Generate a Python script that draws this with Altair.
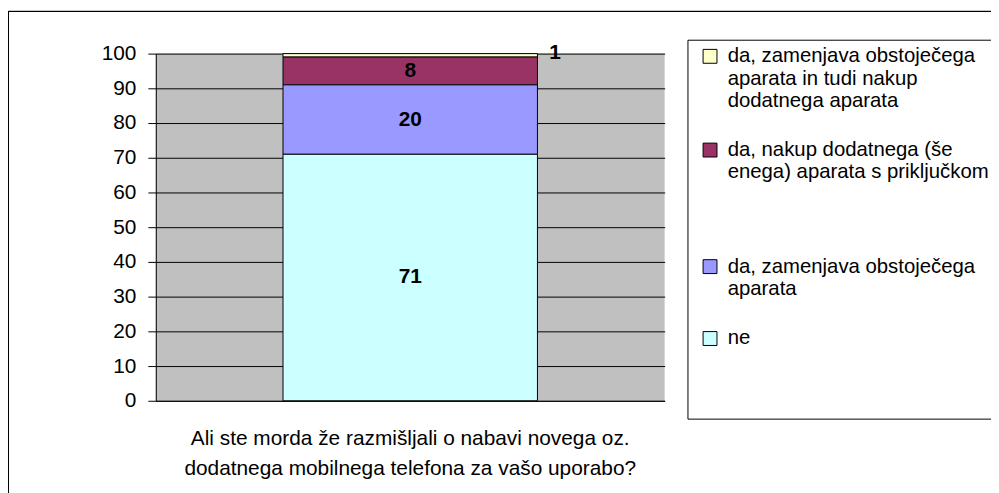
import json
import altair as alt
import pandas as pd

# ---- data (legend order: top of stack first) ----
categories = [
    "da, zamenjava obstoječega aparata in tudi nakup dodatnega aparata",
    "da, nakup dodatnega (še enega) aparata s priključkom",
    "da, zamenjava obstoječega aparata",
    "ne",
]
values = [1, 8, 20, 71]
colors = ["#FFFFCC", "#993366", "#9999FF", "#CCFFFF"]
question = "Ali ste morda že razmišljali o nabavi novega oz. dodatnega mobilnega telefona za vašo uporabo?"
question_lines = ["Ali ste morda že razmišljali o nabavi novega oz.",
                  "dodatnega mobilnega telefona za vašo uporabo?"]
legend_lines = [
    ["da, zamenjava obstoječega", "aparata in tudi nakup", "dodatnega aparata"],
    ["da, nakup dodatnega (še", "enega) aparata s priključkom", "", ""],
    ["da, zamenjava obstoječega", "aparata"],
    ["ne", "", ""],
]
y_ticks = list(range(0, 101, 10))

# ---- table built from the arrays ----
n = len(categories)
df = pd.DataFrame({
    "question": [question] * n,
    "answer": categories,
    "value": values,
    "rank": list(range(n - 1, -1, -1)),  # 0 = bottom of the stack ("ne")
})
df = df.sort_values("rank")
df["mid"] = df["value"].cumsum() - df["value"] / 2
df = df.sort_index()

FONT = "Liberation Sans"

legend_expr = " : ".join(
    f"datum.label === {json.dumps(c, ensure_ascii=False)} ? {json.dumps(l, ensure_ascii=False)}"
    for c, l in zip(categories, legend_lines)
) + " : datum.label"
xlabel_expr = json.dumps(question_lines, ensure_ascii=False)

x_scale = alt.Scale(paddingInner=0, paddingOuter=0)
y_scale = alt.Scale(domain=[0, 100], nice=False)
x_axis = alt.Axis(
    labelExpr=xlabel_expr, labelAngle=0, labelLimit=2000, labelFontSize=21,
    labelLineHeight=30, labelPadding=27, ticks=False,
    domainColor="black", grid=False, labelColor="black",
)
y_axis = alt.Axis(
    values=y_ticks, labelFontSize=21, labelPadding=12, tickSize=8,
    tickColor="black", domainColor="black", gridColor="black",
    gridOpacity=1, labelColor="black",
)

border = alt.Chart(df).mark_rect(fill=None, stroke="black", strokeWidth=1).encode(
    x=alt.value(-148.5), x2=alt.value(1200), y=alt.value(-42.5), y2=alt.value(900)
)

bars = alt.Chart(df).mark_bar(
    width={"band": 0.5}, stroke="black", strokeWidth=1
).encode(
    x=alt.X("question:N", title=None, scale=x_scale, axis=x_axis),
    y=alt.Y("value:Q", stack="zero", scale=y_scale, title=None, axis=y_axis),
    color=alt.Color(
        "answer:N",
        scale=alt.Scale(domain=categories, range=colors),
        legend=alt.Legend(
            title="\u00a0", titleOrient="bottom", titleFontSize=2, titlePadding=11,
            orient="none", legendX=536, legendY=-14,
            strokeColor="black", fillColor="white", padding=12.5,
            labelExpr=legend_expr, labelFontSize=20.5,
            labelBaseline="alphabetic", labelLimit=2000, labelOffset=7.5,
            labelColor="black", rowPadding=28.5, symbolSize=196,
            symbolType="M-1,-1.857L1,-1.857L1,0.143L-1,0.143Z",
            symbolStrokeColor="black", symbolStrokeWidth=1, symbolOpacity=1,
        ),
    ),
    order=alt.Order("rank:Q", sort="ascending"),
)

labels_big = alt.Chart(df).transform_filter("datum.value >= 5").mark_text(
    fontSize=21, fontWeight="bold", color="black"
).encode(
    x=alt.X("question:N", title=None, scale=x_scale, axis=x_axis),
    y=alt.Y("mid:Q", title=None, scale=y_scale, axis=y_axis),
    text=alt.Text("value:Q"),
)
labels_small = alt.Chart(df).transform_filter("datum.value < 5").mark_text(
    fontSize=21, fontWeight="bold", color="black", dx=146, dy=-2
).encode(
    x=alt.X("question:N", title=None, scale=x_scale, axis=x_axis),
    y=alt.Y("mid:Q", title=None, scale=y_scale, axis=y_axis),
    text=alt.Text("value:Q"),
)

chart = alt.layer(border, bars, labels_big, labels_small).properties(
    width=513, height=350,
    autosize=alt.AutoSizeParams(type="none"),
    padding={"left": 149, "top": 44, "right": 329, "bottom": 91},
).configure(
    font=FONT,
).configure_view(
    fill="#C0C0C0", stroke=None,
).configure_axis(
    labelFont=FONT, labelColor="black",
).configure_legend(
    labelFont=FONT,
)

chart.save("out.html", embed_options={"renderer": "svg", "actions": False})
